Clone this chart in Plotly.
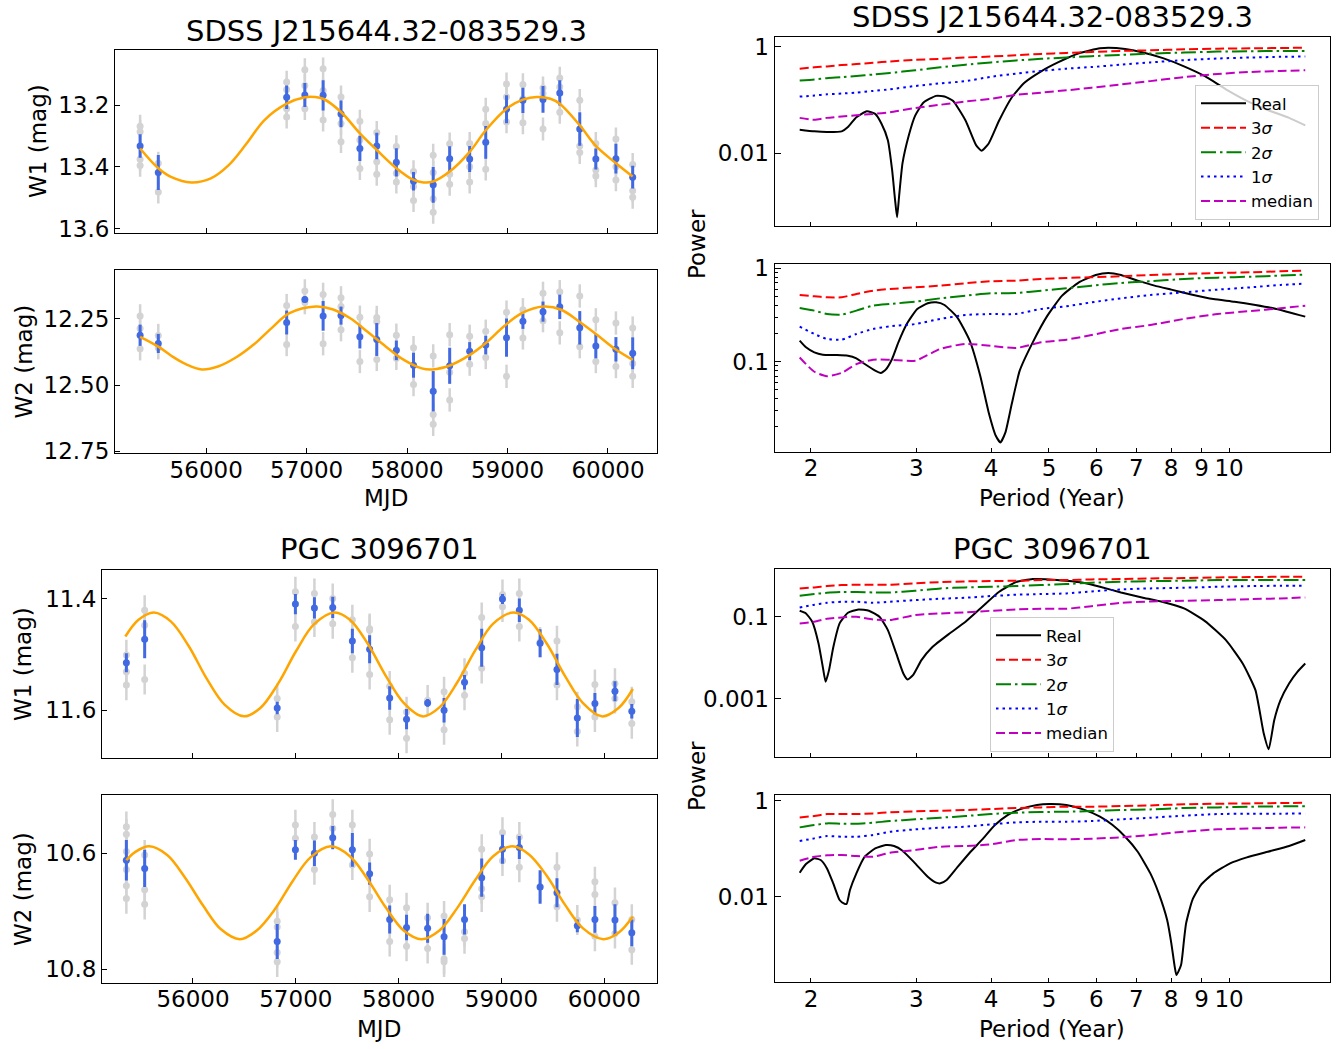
import plotly.graph_objects as go
import math

W, H = 1339, 1049

# ---------------- light curve data ----------------
# SDSS J215644.32-083529.3
mjd_s = [55342, 55523, 56801, 56982, 57164, 57342, 57530, 57698, 57893, 58064, 58260,
         58424, 58623, 58783, 58990, 59153, 59353, 59520, 59719, 59879, 60079, 60246]
w1_s = [13.332, 13.418, 13.174, 13.167, 13.168, 13.228, 13.340, 13.332, 13.385, 13.446, 13.458,
        13.373, 13.374, 13.320, 13.213, 13.184, 13.181, 13.160, 13.277, 13.374, 13.373, 13.433]
w1_s_err = [0.038, 0.057, 0.038, 0.039, 0.049, 0.043, 0.041, 0.043, 0.046, 0.030, 0.058,
            0.040, 0.042, 0.053, 0.045, 0.041, 0.043, 0.041, 0.054, 0.034, 0.048, 0.037]
w1_s_single = [[13.268, 13.286, 13.375, 13.395], [13.388, 13.481], [13.125, 13.149, 13.211, 13.238],
               [13.085, 13.136, 13.211], [13.082, 13.152, 13.248], [13.173, 13.259, 13.318],
               [13.252, 13.313, 13.405], [13.288, 13.383, 13.424], [13.334, 13.420, 13.449],
               [13.415, 13.463, 13.509], [13.362, 13.418, 13.503, 13.547], [13.325, 13.424, 13.456],
               [13.324, 13.399, 13.449], [13.213, 13.259, 13.407], [13.131, 13.173, 13.254],
               [13.133, 13.179, 13.257], [13.144, 13.162, 13.277], [13.112, 13.141, 13.223],
               [13.184, 13.332, 13.353], [13.324, 13.410, 13.429], [13.309, 13.399, 13.442],
               [13.392, 13.477, 13.498]]
w1_s_single_err = 0.037
fit_s_mjd1 = [55342, 55523, 55655, 55851, 56046, 56224, 56402, 56580, 56801, 56982, 57078,
              57164, 57342, 57530, 57698, 57893, 58064, 58164, 58260, 58424, 58623, 58783,
              58990, 59153, 59292, 59427, 59520, 59719, 59879, 60079, 60246]
fit_s_w1 = [13.340, 13.404, 13.433, 13.450, 13.437, 13.394, 13.324, 13.248, 13.195, 13.174, 13.173,
            13.179, 13.222, 13.291, 13.345, 13.404, 13.442, 13.450, 13.447, 13.415, 13.351, 13.281,
            13.211, 13.182, 13.173, 13.179, 13.195, 13.265, 13.332, 13.388, 13.431]

w2_s = [12.312, 12.343, 12.264, 12.177, 12.239, 12.238, 12.318, 12.328, 12.369, 12.425, 12.523,
        12.427, 12.372, 12.349, 12.321, 12.259, 12.223, 12.205, 12.284, 12.353, 12.365, 12.380]
w2_s_err = [0.040, 0.036, 0.045, 0.012, 0.056, 0.034, 0.044, 0.062, 0.037, 0.047, 0.076,
            0.068, 0.034, 0.035, 0.072, 0.029, 0.038, 0.046, 0.063, 0.046, 0.046, 0.060]
w2_s_single = [[12.239, 12.287, 12.363], [12.313, 12.359], [12.200, 12.347], [12.145, 12.189],
               [12.158, 12.344], [12.171, 12.204, 12.291], [12.244, 12.411], [12.245, 12.260, 12.403],
               [12.312, 12.399], [12.359, 12.498], [12.390, 12.611, 12.648], [12.310, 12.452, 12.556],
               [12.316, 12.421], [12.297, 12.396], [12.225, 12.467], [12.216, 12.322],
               [12.154, 12.257], [12.148, 12.303], [12.164, 12.355], [12.254, 12.411],
               [12.266, 12.430], [12.285, 12.419, 12.467]]
w2_s_single_err = 0.044
fit_s_mjd2 = [55342, 55523, 55655, 55797, 55957, 56117, 56295, 56473, 56651, 56829, 57089,
              57256, 57434, 57612, 57790, 57968, 58146, 58253, 58431, 58609, 58787, 58965,
              59143, 59356, 59534, 59712, 59890, 60068, 60246]
fit_s_w2 = [12.318, 12.355, 12.390, 12.421, 12.441, 12.430, 12.396, 12.347, 12.285, 12.229, 12.204,
            12.214, 12.248, 12.301, 12.355, 12.405, 12.437, 12.441, 12.425, 12.390, 12.340, 12.278,
            12.229, 12.204, 12.216, 12.260, 12.310, 12.363, 12.405]

# PGC 3096701
mjd_p = [55352, 55530, 56819, 56996, 57181, 57359, 57550, 57718, 57913, 58077, 58282,
         58442, 58641, 58808, 59010, 59174, 59376, 59540, 59738, 59909, 60104, 60268]
w1_p = [11.515, 11.473, 11.596, 11.410, 11.417, 11.416, 11.476, 11.491, 11.578, 11.616, 11.587,
        11.600, 11.550, 11.488, 11.401, 11.421, 11.480, 11.527, 11.614, 11.588, 11.566, 11.602]
w1_p_err = [0.017, 0.034, 0.011, 0.018, 0.019, 0.019, 0.022, 0.025, 0.021, 0.018, 0.007,
            0.022, 0.013, 0.034, 0.009, 0.021, 0.025, 0.028, 0.034, 0.019, 0.018, 0.013]
w1_p_single = [[11.501, 11.531, 11.555], [11.421, 11.448, 11.545], [11.579, 11.612], [11.388, 11.450],
               [11.391, 11.442], [11.400, 11.445], [11.438, 11.506], [11.454, 11.457, 11.536],
               [11.557, 11.617], [11.603, 11.650], [11.582], [11.567, 11.635], [11.534, 11.573],
               [11.434, 11.525], [11.393, 11.415], [11.391, 11.450], [11.478], [11.476, 11.555],
               [11.594, 11.638], [11.554, 11.612], [11.552, 11.579], [11.585, 11.624]]
w1_p_single_err = 0.027
fit_p_mjd1 = [55342, 55470, 55620, 55784, 55958, 56132, 56307, 56495, 56655, 56829, 57003,
              57178, 57376, 57526, 57700, 57874, 58049, 58233, 58397, 58571, 58745, 58920,
              59118, 59268, 59442, 59616, 59791, 59975, 60139, 60278]
fit_p_w1 = [11.468, 11.438, 11.425, 11.441, 11.485, 11.543, 11.590, 11.611, 11.596, 11.552, 11.494,
            11.446, 11.425, 11.438, 11.481, 11.538, 11.587, 11.611, 11.595, 11.550, 11.493, 11.445,
            11.425, 11.438, 11.481, 11.538, 11.587, 11.611, 11.596, 11.562]

w2_p = [10.612, 10.626, 10.752, 10.594, 10.600, 10.573, 10.594, 10.635, 10.714, 10.728, 10.729,
        10.744, 10.714, 10.642, 10.593, 10.590, 10.658, 10.668, 10.725, 10.714, 10.715, 10.737]
w2_p_err = [0.035, 0.032, 0.030, 0.017, 0.022, 0.020, 0.029, 0.019, 0.024, 0.022, 0.025,
            0.031, 0.026, 0.033, 0.025, 0.020, 0.029, 0.025, 0.011, 0.023, 0.027, 0.023]
w2_p_single = [[10.554, 10.567, 10.597, 10.628, 10.656, 10.678], [10.603, 10.663, 10.688],
               [10.717, 10.727, 10.771, 10.787], [10.551, 10.574], [10.572, 10.628], [10.533, 10.557],
               [10.551, 10.620], [10.601, 10.675], [10.680, 10.752], [10.694, 10.760], [10.711, 10.764],
               [10.708, 10.782, 10.787], [10.735, 10.747], [10.593, 10.661, 10.675], [10.564, 10.613],
               [10.572, 10.624], [10.658], [10.624, 10.692], [10.715], [10.649, 10.671, 10.743],
               [10.685, 10.738], [10.714, 10.766]]
w2_p_single_err = 0.026
fit_p_mjd2 = [55352, 55436, 55575, 55749, 55923, 56098, 56272, 56456, 56620, 56794, 56969,
              57143, 57341, 57526, 57700, 57874, 58049, 58223, 58397, 58571, 58745, 58920,
              59104, 59268, 59442, 59616, 59791, 59989, 60139, 60278]
fit_p_w2 = [10.612, 10.598, 10.588, 10.603, 10.642, 10.690, 10.731, 10.748, 10.733, 10.697, 10.648,
            10.607, 10.588, 10.605, 10.645, 10.693, 10.733, 10.748, 10.733, 10.694, 10.646, 10.605,
            10.588, 10.602, 10.639, 10.688, 10.729, 10.748, 10.737, 10.709]

# ---------------- periodogram data ----------------
period_thr = [1.915, 2.026, 2.127, 2.251, 2.382, 2.540, 2.711, 2.987, 3.291, 3.626, 3.996,
              4.403, 4.851, 5.346, 5.890, 6.597, 7.387, 8.408, 9.568, 10.89, 12.19, 13.41]

# SDSS W1
s1_3sig = [0.387, 0.410, 0.427, 0.452, 0.472, 0.499, 0.529, 0.567, 0.592, 0.627, 0.654,
           0.692, 0.732, 0.764, 0.797, 0.832, 0.856, 0.893, 0.919, 0.932, 0.945, 0.958]
s1_2sig = [0.232, 0.243, 0.257, 0.268, 0.283, 0.300, 0.322, 0.361, 0.410, 0.459, 0.507,
           0.551, 0.592, 0.627, 0.663, 0.702, 0.743, 0.775, 0.809, 0.820, 0.832, 0.832]
s1_1sig = [0.116, 0.121, 0.128, 0.132, 0.138, 0.148, 0.159, 0.183, 0.205, 0.226, 0.272,
           0.313, 0.350, 0.387, 0.415, 0.459, 0.507, 0.559, 0.600, 0.627, 0.645, 0.654]
s1_med = [0.0462, 0.0424, 0.0462, 0.0489, 0.0517, 0.0548, 0.0588, 0.0707, 0.0814, 0.0938, 0.1051,
          0.1245, 0.1375, 0.1519, 0.170, 0.196, 0.226, 0.268, 0.308, 0.336, 0.350, 0.361]
s1_real_p = [1.915, 2.026, 2.127, 2.251, 2.306, 2.382, 2.480, 2.561, 2.624, 2.689, 2.733,
             2.764, 2.786, 2.808, 2.845, 2.915, 2.987, 3.085, 3.238, 3.344, 3.454, 3.626,
             3.776, 3.856, 3.964, 4.127, 4.332, 4.548, 4.851, 5.175, 5.610, 6.084, 6.284,
             6.705, 7.152, 7.753, 8.408, 9.114, 9.881, 10.71, 11.61, 12.60, 13.41]
s1_real = [0.0277, 0.0258, 0.0251, 0.0258, 0.0311, 0.0475, 0.0614, 0.0548, 0.0358, 0.0176, 0.00492,
           0.00137, 0.00063, 0.00158, 0.00654, 0.0218, 0.0510, 0.0899, 0.1194, 0.1161, 0.0965, 0.0412,
           0.01426, 0.0112, 0.0153, 0.0412, 0.1112, 0.2105, 0.3455, 0.507, 0.753, 0.931, 0.958,
           0.906, 0.786, 0.609, 0.428, 0.279, 0.1585, 0.0965, 0.0649, 0.0462, 0.0334]

# SDSS W2
s2_3sig = [0.518, 0.501, 0.489, 0.489, 0.531, 0.576, 0.600, 0.626, 0.652, 0.691, 0.726,
           0.738, 0.769, 0.788, 0.801, 0.821, 0.848, 0.870, 0.891, 0.906, 0.929, 0.944]
s2_2sig = [0.376, 0.352, 0.324, 0.319, 0.352, 0.398, 0.415, 0.439, 0.477, 0.509, 0.540,
           0.544, 0.576, 0.610, 0.652, 0.697, 0.726, 0.769, 0.794, 0.814, 0.835, 0.855]
s2_1sig = [0.237, 0.198, 0.175, 0.172, 0.198, 0.224, 0.239, 0.253, 0.287, 0.316, 0.324,
           0.324, 0.367, 0.392, 0.432, 0.477, 0.518, 0.553, 0.591, 0.626, 0.663, 0.685]
s2_med = [0.111, 0.078, 0.070, 0.076, 0.094, 0.105, 0.105, 0.1025, 0.137, 0.155, 0.148,
          0.140, 0.161, 0.172, 0.193, 0.224, 0.247, 0.287, 0.324, 0.349, 0.373, 0.398]
s2_real_p = [1.915, 1.962, 2.026, 2.093, 2.196, 2.306, 2.382, 2.460, 2.561, 2.616, 2.667,
             2.733, 2.800, 2.892, 3.011, 3.135, 3.238, 3.344, 3.512, 3.685, 3.837, 3.964,
             4.074, 4.147, 4.228, 4.332, 4.467, 4.697, 4.970, 5.259, 5.610, 5.986, 6.284,
             6.597, 7.036, 7.507, 8.008, 8.683, 9.415, 10.21, 11.07, 12.00, 13.41]
s2_real = [0.168, 0.1424, 0.1259, 0.1189, 0.1179, 0.1159, 0.1086, 0.0944, 0.0801, 0.0756, 0.0821,
           0.1068, 0.161, 0.253, 0.3666, 0.4217, 0.432, 0.4046, 0.2985, 0.168, 0.0708, 0.0286,
           0.0161, 0.01367, 0.0175, 0.0352, 0.0801, 0.161, 0.311, 0.509, 0.708, 0.848, 0.891,
           0.848, 0.738, 0.652, 0.591, 0.522, 0.469, 0.439, 0.405, 0.367, 0.3035]

# PGC W1
p1_3sig = [0.494, 0.523, 0.564, 0.596, 0.608, 0.608, 0.608, 0.655, 0.706, 0.733, 0.747,
           0.761, 0.791, 0.791, 0.821, 0.836, 0.868, 0.885, 0.919, 0.936, 0.954, 0.954]
p1_2sig = [0.327, 0.359, 0.387, 0.402, 0.402, 0.394, 0.394, 0.433, 0.494, 0.523, 0.543,
           0.564, 0.596, 0.631, 0.680, 0.720, 0.747, 0.761, 0.791, 0.791, 0.791, 0.791]
p1_1sig = [0.169, 0.197, 0.220, 0.233, 0.233, 0.220, 0.233, 0.256, 0.276, 0.292, 0.321,
           0.346, 0.359, 0.373, 0.417, 0.467, 0.494, 0.513, 0.543, 0.564, 0.574, 0.574]
p1_med = [0.0687, 0.0754, 0.0893, 0.0963, 0.100, 0.086, 0.0829, 0.110, 0.1207, 0.1277, 0.140,
          0.151, 0.157, 0.157, 0.182, 0.220, 0.237, 0.2465, 0.256, 0.271, 0.281, 0.2975]
p1_real_p = [1.915, 1.962, 2.010, 2.059, 2.093, 2.116, 2.144, 2.179, 2.233, 2.306, 2.401,
             2.500, 2.603, 2.689, 2.777, 2.854, 2.901, 2.962, 3.060, 3.186, 3.399, 3.626,
             3.868, 4.127, 4.403, 4.697, 5.011, 5.346, 5.703, 6.084, 6.597, 7.152, 7.753,
             8.408, 9.114, 9.881, 10.54, 11.07, 11.43, 11.65, 11.90, 12.19, 12.60, 13.01, 13.41]
p1_real = [0.140, 0.1207, 0.0754, 0.0222, 0.00596, 0.00256, 0.00494, 0.01774, 0.0687, 0.1253, 0.151,
           0.140, 0.100, 0.0472, 0.01265, 0.0041, 0.00292, 0.00373, 0.00869, 0.01774, 0.0376, 0.0754,
           0.1758, 0.4095, 0.706, 0.836, 0.821, 0.761, 0.680, 0.543, 0.394, 0.2975, 0.2287,
           0.160, 0.0783, 0.0268, 0.0072, 0.0016, 0.000139, 0.0000574, 0.000295, 0.00091, 0.00233,
           0.0045, 0.0072]

# PGC W2
p2_3sig = [0.4495, 0.479, 0.5275, 0.5275, 0.5275, 0.5446, 0.5714, 0.5995, 0.619, 0.639, 0.6707,
           0.7035, 0.7262, 0.75, 0.75, 0.774, 0.7994, 0.8388, 0.866, 0.88, 0.894, 0.9085]
p2_2sig = [0.2783, 0.3112, 0.337, 0.3318, 0.3318, 0.348, 0.377, 0.4084, 0.4424, 0.479, 0.5275,
           0.5623, 0.5806, 0.59, 0.609, 0.639, 0.6596, 0.7035, 0.7262, 0.75, 0.7622, 0.7622]
p2_1sig = [0.1444, 0.1642, 0.1836, 0.1778, 0.1778, 0.1926, 0.226, 0.2528, 0.2738, 0.2873, 0.3212,
           0.3536, 0.365, 0.365, 0.377, 0.4084, 0.4424, 0.487, 0.5275, 0.5363, 0.5363, 0.5446]
p2_med = [0.0562, 0.0681, 0.0726, 0.0738, 0.0703, 0.0681, 0.0825, 0.0938, 0.110, 0.1136, 0.1231,
          0.1516, 0.159, 0.1565, 0.1616, 0.1722, 0.1926, 0.226, 0.2528, 0.2652, 0.2738, 0.2783]
p2_real_p = [1.915, 1.962, 2.026, 2.076, 2.127, 2.179, 2.233, 2.269, 2.294, 2.324, 2.382,
             2.460, 2.561, 2.667, 2.754, 2.845, 2.987, 3.135, 3.238, 3.291, 3.372, 3.512,
             3.685, 3.868, 4.061, 4.263, 4.467, 4.773, 5.011, 5.346, 5.703, 6.084, 6.387,
             6.705, 7.036, 7.387, 7.629, 7.880, 8.008, 8.112, 8.166, 8.313, 8.408, 8.476,
             8.683, 8.970, 9.415, 10.04, 10.71, 11.61, 12.60, 13.41]
p2_real = [0.0316, 0.0479, 0.0629, 0.0581, 0.0389, 0.01896, 0.00852, 0.00726, 0.00704, 0.01377, 0.0306,
           0.0681, 0.1016, 0.1192, 0.1136, 0.0908, 0.0495, 0.0261, 0.01957, 0.01896, 0.02224, 0.0408,
           0.0825, 0.1565, 0.3112, 0.5028, 0.6596, 0.8123, 0.8523, 0.8123, 0.6596, 0.4642, 0.3112,
           0.1778, 0.0866, 0.0306, 0.01173, 0.00327, 0.001066, 0.000348, 0.000233, 0.000377, 0.00125,
           0.00278, 0.00852, 0.0175, 0.0306, 0.0495, 0.066, 0.0866, 0.1136, 0.1516]

titles = ["SDSS J215644.32-083529.3", "PGC 3096701"]
mjd_ticks = [56000, 57000, 58000, 59000, 60000]
period_ticks = [2, 3, 4, 5, 6, 7, 8, 9, 10]

# ---------------- layout helpers ----------------
FONT = "DejaVu Sans"
TICK = 23

def fx(x):
    return x / W

def fy(y):
    return 1 - y / H

# axis frames in pixels: (x0, x1, ytop, ybottom)
frames = {
    1: (115, 657, 50, 232.7),
    2: (115, 657, 270, 453),
    3: (102, 657, 570, 757.7),
    4: (102, 657, 795.3, 982.7),
    5: (774.5, 1330, 37.3, 225.7),
    6: (774.5, 1330, 264, 451.7),
    7: (774.5, 1330, 569, 756.5),
    8: (774.5, 1330, 795, 982.3),
}

fig = go.Figure()
layout = dict(width=W, height=H, margin=dict(l=0, r=0, t=0, b=0, pad=0), autosize=False,
              paper_bgcolor="white", plot_bgcolor="white", template="none",
              font=dict(family=FONT, size=TICK, color="black"), showlegend=True)

def base_axis(n, is_x):
    x0, x1, yt, yb = frames[n]
    d = dict(showline=True, linecolor="black", linewidth=1, mirror=True,
             ticks="inside", tickcolor="black", tickwidth=1, ticklen=5,
             showgrid=False, zeroline=False, automargin=False,
             tickfont=dict(family=FONT, size=TICK, color="black"))
    if is_x:
        d["domain"] = [fx(x0), fx(x1)]
        d["anchor"] = "y" if n == 1 else "y%d" % n
        d["ticklabelstandoff"] = -4
    else:
        d["domain"] = [fy(yb), fy(yt)]
        d["anchor"] = "x" if n == 1 else "x%d" % n
    return d

def key(n, is_x):
    return ("xaxis" if is_x else "yaxis") + ("" if n == 1 else str(n))

def ref(n, is_x):
    return ("x" if is_x else "y") + ("" if n == 1 else str(n))

# ---------------- light curves ----------------
def add_lc(n, mjd, mag, err, single, single_err, fitx, fity, yrange, yticks, ytext, xrange, show_x):
    gx, gy = [], []
    for t, vals in zip(mjd, single):
        for v in vals:
            gx.append(t)
            gy.append(v)
    fig.add_trace(go.Scatter(
        x=gx, y=gy, mode="markers", xaxis=ref(n, True), yaxis=ref(n, False),
        marker=dict(color="lightgray", size=7),
        error_y=dict(type="data", array=[single_err] * len(gy), color="lightgray", thickness=2.5, width=0),
        showlegend=False, hoverinfo="skip"))
    fig.add_trace(go.Scatter(
        x=mjd, y=mag, mode="markers", xaxis=ref(n, True), yaxis=ref(n, False),
        marker=dict(color="royalblue", size=7),
        error_y=dict(type="data", array=err, color="royalblue", thickness=3, width=0),
        showlegend=False))
    fig.add_trace(go.Scatter(
        x=fitx, y=fity, mode="lines", xaxis=ref(n, True), yaxis=ref(n, False),
        line=dict(color="orange", width=2.5, shape="spline", smoothing=1.0),
        showlegend=False))
    xa = base_axis(n, True)
    xa.update(range=xrange, tickvals=mjd_ticks, ticktext=[str(t) for t in mjd_ticks],
              showticklabels=show_x)
    ya = base_axis(n, False)
    ya.update(range=yrange, tickvals=yticks, ticktext=ytext)
    layout[key(n, True)] = xa
    layout[key(n, False)] = ya

add_lc(1, mjd_s, w1_s, w1_s_err, w1_s_single, w1_s_single_err, fit_s_mjd1, fit_s_w1,
       [13.613, 13.021], [13.2, 13.4, 13.6], ["13.2", "13.4", "13.6"], [55092, 60488], False)
add_lc(2, mjd_s, w2_s, w2_s_err, w2_s_single, w2_s_single_err, fit_s_mjd2, fit_s_w2,
       [12.756, 12.066], [12.25, 12.50, 12.75], ["12.25", "12.50", "12.75"], [55092, 60488], True)
add_lc(3, mjd_p, w1_p, w1_p_err, w1_p_single, w1_p_single_err, fit_p_mjd1, fit_p_w1,
       [11.685, 11.349], [11.4, 11.6], ["11.4", "11.6"], [55115, 60513], False)
add_lc(4, mjd_p, w2_p, w2_p_err, w2_p_single, w2_p_single_err, fit_p_mjd2, fit_p_w2,
       [10.823, 10.500], [10.6, 10.8], ["10.6", "10.8"], [55115, 60513], True)

# ---------------- periodograms ----------------
styles = [
    ("3<i>σ</i>", "red", "9px,4px"),
    ("2<i>σ</i>", "green", "15px,4px,2.5px,4px"),
    ("1<i>σ</i>", "blue", "2.5px,4px"),
    ("median", "#c000c0", "9px,4px"),
]

def add_pg(n, real_p, real, thr, yrange, yticks, ytext, show_x, legend=None, minor=None):
    show = legend is not None
    lg = legend if legend else "legend"
    fig.add_trace(go.Scatter(
        x=real_p, y=real, mode="lines", name="Real", xaxis=ref(n, True), yaxis=ref(n, False),
        line=dict(color="black", width=2, shape="spline", smoothing=0.5),
        showlegend=show, legend=lg))
    for (name, col, dash), vals in zip(styles, thr):
        fig.add_trace(go.Scatter(
            x=period_thr, y=vals, mode="lines", name=name, xaxis=ref(n, True), yaxis=ref(n, False),
            line=dict(color=col, width=2, dash=dash, shape="spline", smoothing=0.6),
            showlegend=show, legend=lg))
    xa = base_axis(n, True)
    xa.update(type="log", range=[math.log10(1.738), math.log10(14.75)],
              tickvals=period_ticks, ticktext=[str(t) for t in period_ticks],
              showticklabels=show_x, ticklen=4)
    ya = base_axis(n, False)
    ya.update(type="log", range=yrange, tickvals=yticks, ticktext=ytext, ticklen=6)
    if minor:
        ya["minor"] = dict(ticks="inside", ticklen=3, tickcolor="black", tickvals=minor, showgrid=False)
    layout[key(n, True)] = xa
    layout[key(n, False)] = ya

add_pg(5, s1_real_p, s1_real, [s1_3sig, s1_2sig, s1_1sig, s1_med],
       [-3.358, 0.176], [1, 0.01], ["1", "0.01"], False, legend="legend")
add_pg(6, s2_real_p, s2_real, [s2_3sig, s2_2sig, s2_1sig, s2_med],
       [-1.964, 0.046], [1, 0.1], ["1", "0.1"], True,
       minor=[0.02, 0.03, 0.04, 0.05, 0.06, 0.07, 0.08, 0.09, 0.2, 0.3, 0.4, 0.5, 0.6, 0.7, 0.8, 0.9])
add_pg(7, p1_real_p, p1_real, [p1_3sig, p1_2sig, p1_1sig, p1_med],
       [-4.42, 0.169], [0.1, 0.001], ["0.1", "0.001"], False, legend="legend2")
add_pg(8, p2_real_p, p2_real, [p2_3sig, p2_2sig, p2_1sig, p2_med],
       [-3.784, 0.119], [1, 0.01], ["1", "0.01"], True)

leg_common = dict(xanchor="left", yanchor="top", bgcolor="rgba(255,255,255,0.8)",
                  bordercolor="#cccccc", borderwidth=1, font=dict(family=FONT, size=16.5, color="black"),
                  tracegroupgap=0, itemwidth=45, traceorder="normal")
layout["legend"] = dict(x=fx(1195), y=fy(85), **leg_common)
layout["legend2"] = dict(x=fx(990), y=fy(617), **leg_common)

# ---------------- text annotations ----------------
ann = []
def text(x, y, s, size=TICK, angle=0):
    ann.append(dict(x=fx(x), y=fy(y), xref="paper", yref="paper", text=s, showarrow=False,
                    xanchor="center", yanchor="middle", textangle=angle,
                    font=dict(family=FONT, size=size, color="black")))

TITLE = 29
text(386, 31, titles[0], TITLE)
text(1052, 17, titles[0], TITLE)
text(379.5, 549, titles[1], TITLE)
text(1052, 549, titles[1], TITLE)
text(386, 498, "MJD")
text(379.5, 1029, "MJD")
text(1052, 498, "Period (Year)")
text(1052, 1029, "Period (Year)")
text(38, 141, "W1 (mag)", angle=-90)
text(23, 361.5, "W2 (mag)", angle=-90)
text(23, 664, "W1 (mag)", angle=-90)
text(23, 889, "W2 (mag)", angle=-90)
text(697, 244, "Power", angle=-90)
text(697, 776, "Power", angle=-90)
layout["annotations"] = ann

fig.update_layout(**layout)
fig.write_html("out.html")
